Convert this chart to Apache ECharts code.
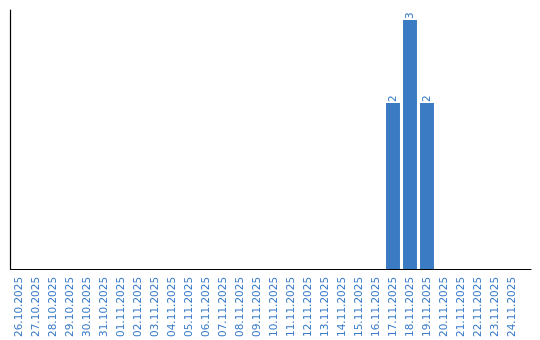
<!DOCTYPE html>
<html><head><meta charset="utf-8">
<script src="https://cdn.jsdelivr.net/npm/echarts@6/dist/echarts.min.js"></script>
<style>html,body{margin:0;padding:0;background:#fff}#c{width:540px;height:340px}</style>
</head><body><div id="c"></div>
<script>
const categories = ["26.10.2025","27.10.2025","28.10.2025","29.10.2025","30.10.2025","31.10.2025","01.11.2025","02.11.2025","03.11.2025","04.11.2025","05.11.2025","06.11.2025","07.11.2025","08.11.2025","09.11.2025","10.11.2025","11.11.2025","12.11.2025","13.11.2025","14.11.2025","15.11.2025","16.11.2025","17.11.2025","18.11.2025","19.11.2025","20.11.2025","21.11.2025","22.11.2025","23.11.2025","24.11.2025"];
const counts = [0,0,0,0,0,0,0,0,0,0,0,0,0,0,0,0,0,0,0,0,0,0,2,3,2,0,0,0,0,0];
const blue = '#3b7bc3';
const labelBlue = '#3a7cc9';
const chart = echarts.init(document.getElementById('c'), null, {renderer:'canvas'});
chart.setOption({
  animation:false,
  grid:[
    {left:10.5, top:10, width:520.5, height:259, containLabel:false},
    {left:10.5, top:10, width:510, height:259, containLabel:false}
  ],
  xAxis:[
    {gridIndex:0, type:'value', min:0, max:1, axisLine:{show:true, lineStyle:{color:'#000', width:1.2}}, axisTick:{show:false}, axisLabel:{show:false}, splitLine:{show:false}},
    {gridIndex:1, type:'category', data:categories, axisLine:{show:false}, axisTick:{show:false},
     axisLabel:{rotate:90, interval:0, color:labelBlue, fontFamily:'DejaVu Sans', fontSize:10.5, margin:8}}
  ],
  yAxis:[
    {gridIndex:0, type:'value', min:0, max:1, axisLine:{show:true, lineStyle:{color:'#000', width:1.2}}, axisTick:{show:false}, axisLabel:{show:false}, splitLine:{show:false}},
    {gridIndex:1, type:'value', min:0, max:3.12, axisLine:{show:false}, axisTick:{show:false}, axisLabel:{show:false}, splitLine:{show:false}}
  ],
  series:[{
    type:'bar', xAxisIndex:1, yAxisIndex:1, data:counts, barCategoryGap:'18%',
    itemStyle:{color:blue},
    label:{show:true, position:'top', rotate:90, align:'left', verticalAlign:'middle', distance:1,
      color:labelBlue, fontFamily:'DejaVu Sans', fontSize:10.5,
      formatter:p=>p.value?String(p.value):''}
  }]
});
</script></body></html>
